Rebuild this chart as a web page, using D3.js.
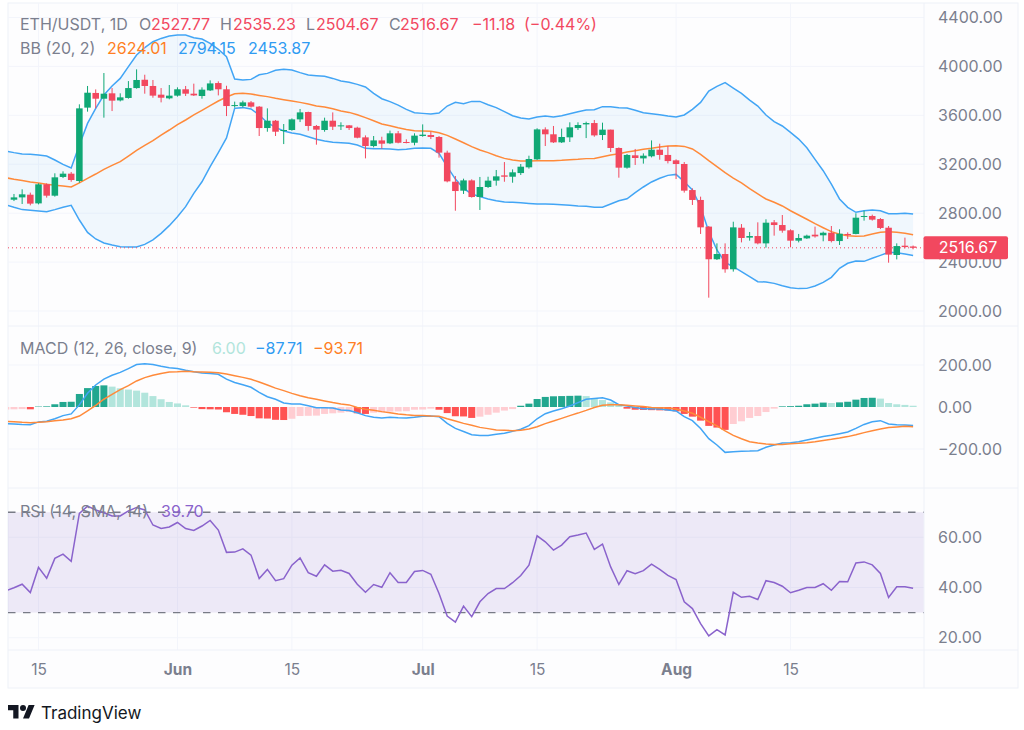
<!DOCTYPE html>
<meta charset="utf-8">
<style>
html, body { margin: 0; padding: 0; background: white; overflow: hidden; }
text { font-family: Inter, "Noto Sans", sans-serif; }
</style>
<body></body>
<script src="https://cdn.jsdelivr.net/npm/d3@7"></script>
<script>
// daily ETH/USDT. the candles start one day after the indicators
var firstDay = "2024-05-11";
var lastDay = "2024-08-30";

var opens = [2910,2929,2951,2880,3036,2943,3096,3123,3063,3663,
  3783,3736,3780,3722,3742,3823,3891,3840,3769,3739,
  3761,3813,3777,3758,3804,3864,3813,3676,3676,3706,
  3671,3496,3556,3472,3480,3567,3627,3513,3480,3556,
  3510,3518,3499,3420,3349,3395,3371,3453,3382,3376,
  3431,3439,3423,3295,3057,2984,3068,2932,3014,3066,
  3109,3098,3128,3175,3240,3485,3445,3379,3420,3496,
  3526,3537,3439,3483,3333,3172,3273,3248,3265,3319,
  3276,3232,3202,2989,2908,2690,2423,2466,2341,2681,
  2600,2613,2553,2725,2703,2660,2575,2594,2624,2619,
  2640,2572,2630,2630,2769,2777,2752,2681,2458,2534,2527.77];
var highs = [2957,2995,2968,3044,3044,3126,3142,3137,3690,3840,
  3812,3946,3823,3780,3880,3976,3932,3889,3823,3848,
  3829,3840,3859,3829,3886,3878,3842,3712,3720,3717,
  3676,3657,3562,3529,3575,3652,3630,3521,3581,3624,
  3543,3521,3507,3436,3431,3425,3475,3472,3404,3453,
  3526,3466,3431,3311,3104,3082,3077,3096,3098,3153,
  3218,3158,3202,3270,3494,3502,3513,3491,3543,3543,
  3548,3562,3540,3483,3338,3284,3325,3289,3395,3368,
  3349,3240,3218,3003,2935,2695,2553,2553,2730,2711,
  2646,2725,2750,2744,2785,2668,2630,2624,2690,2649,
  2695,2668,2643,2799,2820,2788,2760,2695,2553,2600,2535.23];
var lows = [2899,2875,2864,2872,2927,2935,3087,3057,3049,3630,
  3657,3581,3635,3714,3736,3818,3777,3744,3706,3731,
  3753,3758,3758,3736,3799,3763,3594,3663,3665,3663,
  3431,3466,3431,3365,3474,3545,3474,3360,3466,3480,
  3480,3480,3412,3248,3338,3327,3365,3371,3371,3355,
  3425,3406,3254,3052,2820,2957,2927,2826,3006,3025,
  3057,3049,3112,3164,3235,3349,3374,3374,3382,3480,
  3414,3425,3398,3300,3090,3164,3194,3205,3256,3237,
  3207,3079,2968,2867,2630,2109,2417,2313,2322,2561,
  2575,2545,2518,2616,2640,2521,2561,2589,2600,2570,
  2561,2540,2589,2627,2739,2739,2670,2395,2422,2512,2504.67];
var closes = [2929,2954,2878,3036,2943,3093,3123,3071,3657,3785,
  3736,3777,3720,3747,3823,3889,3840,3761,3744,3761,
  3813,3777,3763,3810,3861,3813,3676,3684,3706,3671,
  3496,3556,3466,3480,3567,3624,3513,3483,3556,3507,
  3518,3496,3417,3349,3395,3368,3453,3376,3374,3434,
  3442,3423,3295,3060,2981,3068,2932,3014,3066,3101,
  3098,3134,3180,3243,3485,3445,3379,3423,3502,3521,
  3537,3436,3483,3333,3172,3276,3251,3270,3319,3276,
  3226,3202,2984,2908,2684,2423,2466,2341,2684,2597,
  2613,2553,2722,2703,2657,2575,2597,2616,2610,2640,
  2572,2632,2621,2763,2777,2747,2679,2461,2531,2523,2516.67];

var bbUpper = [3308,3295,3284,3281,3276,3267,3235,3199,3169,3357,3534,
  3657,3766,3840,3902,3998,4093,4153,4202,4229,4249,
  4257,4257,4235,4224,4189,4140,4080,3897,3889,3894,
  3932,3943,3968,3976,3971,3949,3930,3924,3919,3902,3881,
  3870,3853,3832,3780,3736,3712,3684,3649,3622,3616,
  3611,3619,3676,3706,3695,3714,3714,3687,3663,3630,
  3597,3578,3570,3586,3594,3586,3597,3613,3630,3643,
  3646,3671,3671,3663,3660,3641,3622,3613,3605,3594,3586,
  3603,3649,3706,3799,3837,3867,3823,3780,3725,3676,
  3603,3548,3513,3461,3406,3335,3240,3147,3038,2916,
  2848,2807,2820,2826,2820,2796,2796,2799,2794];
var bbBasis = [3090,3077,3068,3055,3047,3036,3028,3022,3014,3047,3085,
  3120,3158,3191,3221,3267,3314,3355,3393,3439,3480,
  3524,3562,3603,3641,3679,3717,3750,3777,3780,3774,
  3763,3753,3739,3728,3717,3706,3693,3676,3668,3654,3635,
  3624,3605,3581,3556,3529,3515,3499,3485,3474,3472,
  3469,3458,3436,3406,3376,3344,3316,3295,3270,3248,
  3235,3226,3226,3229,3229,3229,3232,3237,3240,3246,
  3248,3262,3276,3286,3300,3311,3322,3330,3341,3349,3352,
  3346,3325,3281,3229,3180,3131,3087,3047,3000,2957,
  2916,2889,2859,2820,2785,2750,2714,2681,2649,2627,
  2616,2611,2613,2630,2643,2649,2643,2635,2624];
var bbLower = [2869,2848,2829,2823,2818,2812,2829,2848,2864,2744,2643,
  2589,2556,2540,2526,2523,2523,2545,2581,2635,2698,
  2771,2853,2962,3057,3180,3295,3415,3657,3663,3652,
  3603,3540,3502,3472,3455,3445,3425,3404,3390,3379,3376,
  3371,3357,3330,3327,3327,3325,3319,3322,3330,3333,
  3330,3289,3180,3079,3003,2957,2935,2916,2902,2891,
  2889,2886,2880,2875,2875,2872,2869,2864,2859,2856,
  2848,2848,2875,2902,2918,2968,3014,3055,3085,3109,3117,
  3057,2989,2853,2649,2499,2398,2362,2322,2281,2240,
  2237,2226,2207,2191,2183,2185,2204,2234,2275,2349,
  2390,2409,2406,2431,2455,2480,2477,2466,2454];

var macdHist = [-12,-11,-10,-11,2,3,13,24,25,62,90,
  100,103,97,89,83,78,68,52,37,24,
  17,8,-3,-10,-11,-12,-25,-33,-37,-43,
  -54,-55,-61,-62,-56,-43,-42,-41,-33,-30,-27,
  -24,-30,-33,-27,-26,-22,-21,-20,-13,-12,
  -8,-13,-29,-44,-45,-52,-46,-37,-27,-17,
  -10,6,16,38,48,51,52,53,54,52,
  40,33,22,14,-8,-13,-14,-15,-16,-17,-21,
  -33,-46,-65,-90,-98,-109,-81,-68,-52,-43,
  -24,-8,3,4,6,13,16,21,19,22,
  25,35,43,44,40,19,13,10,6];
var macdLine = [-79,-81,-83,-84,-71,-68,-56,-41,-33,10,65,
  105,133,151,165,183,202,206,202,194,187,
  183,175,168,162,159,156,133,117,106,94,
  70,49,37,19,14,14,6,-3,-3,-5,-14,
  -17,-27,-41,-49,-52,-49,-51,-52,-49,-44,
  -43,-46,-78,-102,-117,-132,-136,-136,-130,-125,
  -116,-106,-89,-56,-32,-19,-8,5,21,37,
  41,44,33,11,5,-2,-8,-8,-10,-14,-19,
  -46,-65,-102,-151,-181,-216,-213,-211,-210,-208,
  -192,-181,-171,-170,-165,-157,-149,-141,-135,-127,
  -119,-102,-83,-70,-65,-81,-84,-86,-88];
var macdSignal = [-68,-70,-73,-75,-73,-70,-65,-62,-56,-43,-19,
  8,37,60,83,102,124,140,151,160,167,
  168,170,168,167,165,163,157,149,141,132,
  119,105,90,78,65,54,44,37,29,21,14,
  10,-2,-11,-16,-22,-27,-33,-37,-40,-41,
  -43,-44,-56,-67,-78,-87,-97,-103,-110,-111,
  -113,-111,-105,-94,-79,-67,-54,-41,-29,-16,
  -2,8,11,11,8,5,2,-2,-3,-5,-10,
  -19,-30,-49,-70,-90,-114,-135,-151,-165,-171,
  -176,-178,-178,-175,-173,-170,-165,-159,-154,-148,
  -141,-132,-122,-113,-105,-98,-95,-92,-94];

var rsi = [38.7,39.9,41.3,38.0,48.0,43.7,51.6,53.3,50.4,69.5,72.4,
  70.9,69.8,68.5,68.5,70.5,71.9,70.9,64.9,63.5,64.1,
  65.9,63.5,62.7,64.5,66.7,62.9,54.0,54.1,55.4,52.9,
  43.6,47.2,42.7,43.5,48.9,51.8,45.9,44.5,49.0,46.5,46.9,
  45.6,41.3,38.1,41.2,40.1,45.9,42.0,42.0,46.4,46.8,
  45.3,37.6,28.6,26.2,32.6,28.4,34.3,37.6,39.6,39.6,
  41.9,44.8,48.9,60.6,58.2,54.9,56.9,60.2,60.9,61.7,
  55.2,57.3,48.2,41.2,46.7,45.5,46.7,49.3,47.2,44.8,43.2,
  34.3,31.6,25.6,20.7,23.2,21.1,38.1,36.1,36.5,35.2,
  42.7,42.0,40.5,37.9,38.9,40.0,40.0,41.5,38.9,42.4,
  42.3,49.8,50.2,49.0,45.6,36.0,40.3,40.3,39.7];

var priceTicks = [2000,2400,2800,3200,3600,4000,4400];
var macdTicks = [-200,0,200];
var rsiTicks = [20,40,60];
var rsiBand = [30,70];
var lastPrice = 2516.67;
var timeTicks = ["2024-05-15","2024-06-01","2024-06-15","2024-07-01","2024-07-15","2024-08-01","2024-08-15"];

var colors = {up: "#10a875", down: "#f2485f", text: "#7b7f8e", grid: "#f3f5fb", border: "#eef1f8",
              blue: "#42a5f5", orange: "#ff8a3a", purple: "#8a63cc",
              histUp: "#22a78f", histUpPale: "#b2e5dc", histDown: "#ff5252", histDownPale: "#ffcdd2"};

// window.top can't be reassigned, so no plain "top" here
var chartLeft = 8, chartRight = 924, outerRight = 1018, chartTop = 3;
var priceBottom = 326, macdBottom = 488, rsiBottom = 650, outerBottom = 688;
var fontSize = "16px";

var parseDay = d3.utcParse("%Y-%m-%d");
var dates = d3.utcDay.range(parseDay(firstDay), d3.utcDay.offset(parseDay(lastDay), 1));
var candleDates = dates.slice(1);

var x = d3.scaleUtc().domain([parseDay("2024-05-15"), parseDay("2024-08-15")]).range([38.5, 790.5]);
var step = x(dates[1]) - x(dates[0]);

var yPrice = d3.scaleLinear().domain([2000, 4400]).range([311, 17.5]);
var yMacd = d3.scaleLinear().domain([-200, 200]).range([449, 365]);
var yRsi = d3.scaleLinear().domain([20, 60]).range([637.7, 537.3]);

var svg = d3.select("body").append("svg").attr("width", 1024).attr("height", 730).style("display", "block");

svg.append("rect").attr("x", chartLeft).attr("y", chartTop)
   .attr("width", outerRight - chartLeft).attr("height", outerBottom - chartTop)
   .attr("fill", "#fdfdfe").attr("stroke", colors.border);

function add_clip(id, y0, y1) {
  svg.append("clipPath").attr("id", id).append("rect")
     .attr("x", chartLeft).attr("y", y0).attr("width", chartRight - chartLeft).attr("height", y1 - y0);
}
add_clip("clip-price", chartTop, priceBottom);
add_clip("clip-macd", priceBottom, macdBottom);
add_clip("clip-rsi", macdBottom, rsiBottom);

// grid
var timeDates = timeTicks.map(parseDay);
svg.append("g").selectAll("line").data(timeDates).join("line")
   .attr("x1", d => x(d)).attr("x2", d => x(d))
   .attr("y1", chartTop).attr("y2", rsiBottom)
   .attr("stroke", colors.grid);

function h_grid(ticks, scale) {
  svg.append("g").selectAll("line").data(ticks).join("line")
     .attr("x1", chartLeft).attr("x2", chartRight)
     .attr("y1", d => scale(d)).attr("y2", d => scale(d))
     .attr("stroke", colors.grid);
}
h_grid(priceTicks, yPrice);
h_grid(macdTicks.filter(d => d != 0), yMacd);
h_grid(rsiTicks, yRsi);

// price pane
var price = svg.append("g").attr("clip-path", "url(#clip-price)");

var band = d3.area().x((d, i) => x(dates[i]))
  .y0((d, i) => yPrice(bbLower[i]))
  .y1((d, i) => yPrice(bbUpper[i]));
price.append("path").datum(dates).attr("d", band).attr("fill", "#2196f3").attr("fill-opacity", 0.06);

function line_of(values, scale) {
  return d3.line().x((d, i) => x(dates[i])).y(d => scale(d))(values);
}
function draw_line(g, values, scale, color) {
  g.append("path").attr("d", line_of(values, scale))
   .attr("fill", "none").attr("stroke", color).attr("stroke-width", 1.5);
}
draw_line(price, bbUpper, yPrice, colors.blue);
draw_line(price, bbLower, yPrice, colors.blue);
draw_line(price, bbBasis, yPrice, colors.orange);

price.append("line").attr("x1", chartLeft).attr("x2", chartRight)
     .attr("y1", yPrice(lastPrice)).attr("y2", yPrice(lastPrice))
     .attr("stroke", colors.down).attr("stroke-dasharray", "1 3");

var candle = price.selectAll("g.candle").data(candleDates).join("g").attr("class", "candle")
  .attr("fill", (d, i) => closes[i] >= opens[i] ? colors.up : colors.down)
  .attr("stroke", (d, i) => closes[i] >= opens[i] ? colors.up : colors.down);
candle.append("line").attr("x1", d => x(d)).attr("x2", d => x(d))
  .attr("y1", (d, i) => yPrice(highs[i])).attr("y2", (d, i) => yPrice(lows[i]))
  .attr("stroke-width", 1);
candle.append("rect").attr("x", d => x(d) - step * 0.4).attr("width", step * 0.8)
  .attr("y", (d, i) => yPrice(Math.max(opens[i], closes[i])))
  .attr("height", (d, i) => Math.max(1, Math.abs(yPrice(opens[i]) - yPrice(closes[i]))))
  .attr("stroke", "none");

// macd pane
var macd = svg.append("g").attr("clip-path", "url(#clip-macd)");

function hist_color(v, i) {
  var prev = i > 0 ? macdHist[i - 1] : v;
  if (v >= 0) return v > prev ? colors.histUp : colors.histUpPale;
  return v < prev ? colors.histDown : colors.histDownPale;
}
macd.selectAll("rect").data(macdHist).join("rect")
  .attr("x", (d, i) => x(dates[i]) - step * 0.43).attr("width", step * 0.86)
  .attr("y", d => Math.min(yMacd(d), yMacd(0)))
  .attr("height", d => Math.abs(yMacd(d) - yMacd(0)))
  .attr("fill", hist_color);
draw_line(macd, macdLine, yMacd, colors.blue);
draw_line(macd, macdSignal, yMacd, colors.orange);

// rsi pane
var rsiG = svg.append("g").attr("clip-path", "url(#clip-rsi)");
rsiG.append("rect").attr("x", chartLeft).attr("width", chartRight - chartLeft)
  .attr("y", yRsi(rsiBand[1])).attr("height", yRsi(rsiBand[0]) - yRsi(rsiBand[1]))
  .attr("fill", "#7e57c2").attr("fill-opacity", 0.12);
rsiG.selectAll("line").data(rsiBand).join("line")
  .attr("x1", chartLeft).attr("x2", chartRight)
  .attr("y1", d => yRsi(d)).attr("y2", d => yRsi(d))
  .attr("stroke", "#787b86").attr("stroke-width", 1.4).attr("stroke-dasharray", "7.5 7.5");
draw_line(rsiG, rsi, yRsi, colors.purple);

// separators on top of the panes
[priceBottom, macdBottom, rsiBottom].forEach(function(y) {
  svg.append("line").attr("x1", chartLeft).attr("x2", outerRight).attr("y1", y).attr("y2", y).attr("stroke", colors.border);
});
svg.append("line").attr("x1", chartRight).attr("x2", chartRight).attr("y1", chartTop).attr("y2", outerBottom).attr("stroke", colors.border);

// axes
function right_axis(scale, ticks) {
  var g = svg.append("g").attr("transform", "translate(" + (chartRight + 14) + ",0)")
    .call(d3.axisRight(scale).tickValues(ticks).tickSize(0).tickPadding(0).tickFormat(d3.format(".2f")));
  g.select(".domain").remove();
  g.selectAll("text").attr("fill", colors.text).style("font-size", fontSize).style("font-family", "Inter");
}
right_axis(yPrice, priceTicks);
right_axis(yMacd, macdTicks.map(d => d));
right_axis(yRsi, rsiTicks);

var timeFormat = d => d.getUTCDate() == 1 ? d3.utcFormat("%b")(d) : d3.utcFormat("%-d")(d);
var timeAxis = svg.append("g").attr("transform", "translate(0," + (rsiBottom + 8) + ")")
  .call(d3.axisBottom(x).tickValues(timeDates).tickSize(0).tickPadding(6).tickFormat(timeFormat));
timeAxis.select(".domain").remove();
timeAxis.selectAll("text").attr("fill", colors.text).style("font-size", "15.5px").style("font-family", "Inter")
  .style("font-weight", d => d.getUTCDate() == 1 ? 700 : 400);

// last price tag
svg.append("rect").attr("x", 923.5).attr("y", yPrice(lastPrice) - 11.5).attr("width", 84.5).attr("height", 23)
   .attr("rx", 2).attr("fill", colors.down);
svg.append("text").attr("x", 968).attr("y", yPrice(lastPrice)).attr("dy", "0.35em")
   .attr("text-anchor", "middle").attr("fill", "white").style("font-size", fontSize)
   .text(d3.format(".2f")(lastPrice));

// legends
var legend = [
  ["ETH/USDT, 1D", 20, 24, colors.text], ["O", 139, 24, colors.text], ["2527.77", 151, 24, colors.down],
  ["H", 220, 24, colors.text], ["2535.23", 233, 24, colors.down], ["L", 306, 24, colors.text],
  ["2504.67", 316, 24, colors.down], ["C", 389, 24, colors.text], ["2516.67", 400, 24, colors.down],
  ["\u221211.18", 472, 24, colors.down], ["(\u22120.44%)", 524, 24, colors.down],
  ["BB (20, 2)", 20, 48, colors.text], ["2624.01", 107, 48, "#ff7f24"], ["2794.15", 178, 48, "#2f9bf2"], ["2453.87", 248, 48, "#2f9bf2"],
  ["MACD (12, 26, close, 9)", 20, 348, colors.text], ["6.00", 212, 348, "#b2e5dc"], ["\u221287.71", 255, 348, "#2f9bf2"], ["\u221293.71", 313, 348, "#ff7f24"],
  ["RSI (14, SMA, 14)", 20, 511, colors.text], ["39.70", 161, 511, colors.purple]
];
svg.append("g").selectAll("text").data(legend).join("text")
  .attr("x", d => d[1]).attr("y", d => d[2]).attr("dy", "0.35em")
  .attr("fill", d => d[3]).style("font-size", fontSize).text(d => d[0]);

// footer logo
var logo = svg.append("g").attr("transform", "translate(8,702) scale(0.75)").attr("fill", "#131722");
logo.append("path").attr("d", "M14 22H7V11H0V4h14v18zM28 22h-8l7.5-18h8L28 22z");
logo.append("circle").attr("cx", 20).attr("cy", 8).attr("r", 4);
svg.append("text").attr("x", 41).attr("y", 713).attr("dy", "0.35em").attr("fill", "#131722")
   .style("font-size", "17px").text("TradingView");
</script>
